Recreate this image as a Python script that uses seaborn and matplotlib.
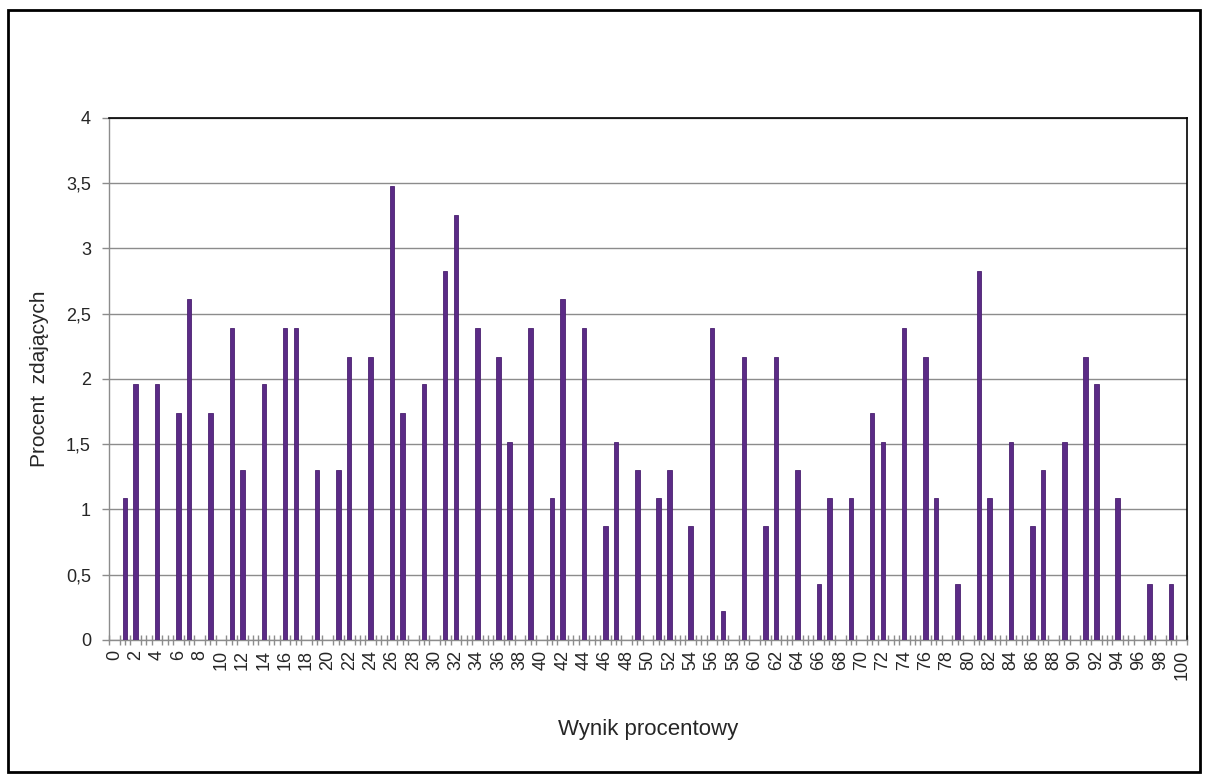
import numpy as np
import pandas as pd
import seaborn as sns
import matplotlib.pyplot as plt
from matplotlib.patches import Rectangle
from matplotlib.ticker import FuncFormatter

# --- data: percent of students for each percentage score (0..100) ---
scores = [str(s) for s in range(101)]
percent = [
    0.00, 1.09, 1.96, 0.00, 1.96, 0.00, 1.74, 2.61, 0.00, 1.74,   # 0-9
    0.00, 2.39, 1.30, 0.00, 1.96, 0.00, 2.39, 2.39, 0.00, 1.30,   # 10-19
    0.00, 1.30, 2.17, 0.00, 2.17, 0.00, 3.48, 1.74, 0.00, 1.96,   # 20-29
    0.00, 2.83, 3.26, 0.00, 2.39, 0.00, 2.17, 1.52, 0.00, 2.39,   # 30-39
    0.00, 1.09, 2.61, 0.00, 2.39, 0.00, 0.87, 1.52, 0.00, 1.30,   # 40-49
    0.00, 1.09, 1.30, 0.00, 0.87, 0.00, 2.39, 0.22, 0.00, 2.17,   # 50-59
    0.00, 0.87, 2.17, 0.00, 1.30, 0.00, 0.43, 1.09, 0.00, 1.09,   # 60-69
    0.00, 1.74, 1.52, 0.00, 2.39, 0.00, 2.17, 1.09, 0.00, 0.43,   # 70-79
    0.00, 2.83, 1.09, 0.00, 1.52, 0.00, 0.87, 1.30, 0.00, 1.52,   # 80-89
    0.00, 2.17, 1.96, 0.00, 1.09, 0.00, 0.00, 0.43, 0.00, 0.43,   # 90-99
    0.00,                                                         # 100
]
y_ticks = [0, 0.5, 1, 1.5, 2, 2.5, 3, 3.5, 4]
x_label = 'Wynik procentowy'
y_label = 'Procent  zdających'

df = pd.DataFrame({'wynik': scores, 'procent': percent})

# --- style ---
sns.set_style('white')
plt.rcParams['font.family'] = ['Liberation Sans', 'DejaVu Sans']

fig = plt.figure(figsize=(12.06, 7.78), dpi=100)
ax = fig.add_axes([0.0904, 0.1774, 0.8939, 0.6710])

sns.barplot(data=df, x='wynik', y='procent', order=scores, color='#5b2b86',
            saturation=1, width=0.42, errorbar=None, ax=ax, zorder=3,
            edgecolor='#4a2170', linewidth=0.6)

# --- axes ---
ax.set_xlim(-0.5, 100.5)
ax.set_ylim(0, 4)
ax.set_yticks(y_ticks)
ax.yaxis.set_major_formatter(FuncFormatter(lambda v, p: f'{v:g}'.replace('.', ',')))
ax.grid(axis='y', color='#8c8c8c', linewidth=1, zorder=0)
ax.set_axisbelow(True)

ax.set_xticks(range(0, 101, 2))
ax.set_xticklabels(scores[::2], rotation=90)
ax.set_xticks(np.arange(-0.5, 101, 0.5), minor=True)
ax.tick_params(axis='x', which='both', bottom=True)
ax.tick_params(axis='y', which='major', left=True)
ax.tick_params(axis='x', which='major', length=0, pad=7, labelsize=13, colors='#262626')
ax.tick_params(axis='x', which='minor', direction='inout', length=7, width=1, color='#8c8c8c')
ax.tick_params(axis='y', which='major', direction='out', length=5, width=1, color='#8c8c8c',
               pad=8, labelsize=13, labelcolor='#262626')

for side in ['top', 'right']:
    ax.spines[side].set_color('black')
    ax.spines[side].set_linewidth(1.2)
for side in ['left', 'bottom']:
    ax.spines[side].set_color('#8c8c8c')
    ax.spines[side].set_linewidth(1)

ax.set_xlabel(x_label, fontsize=16, labelpad=28)
ax.set_ylabel(y_label, fontsize=15, labelpad=12)

# outer chart border
fig.patches.append(Rectangle((0.0066, 0.0077), 0.9884, 0.9794, transform=fig.transFigure,
                             fill=False, edgecolor='black', linewidth=2))

plt.savefig('out.png', dpi=100)
plt.close()
